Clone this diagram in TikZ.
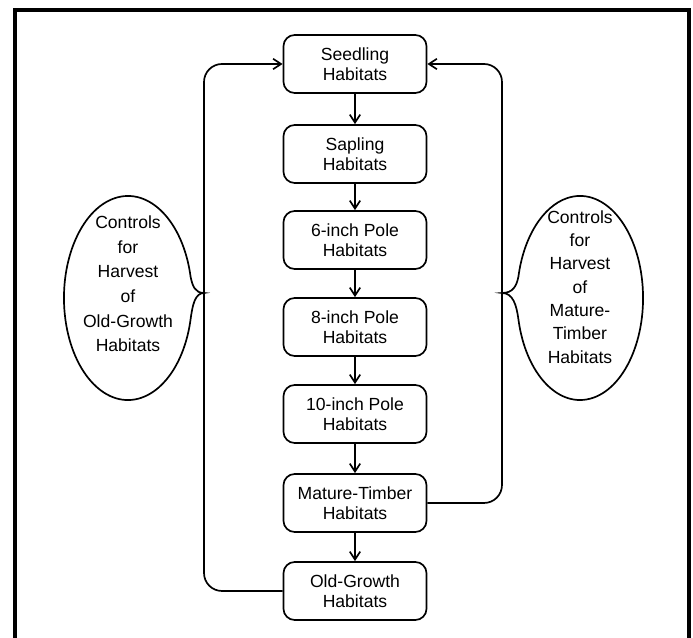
\documentclass[tikz,border=0pt]{standalone}
\usepackage{fontspec}
\setmainfont{Liberation Sans}
\usetikzlibrary{arrows.meta, positioning, calc}

\begin{document}
\begin{tikzpicture}[x=0.025cm, y=0.025cm, font=\fontsize{12.5}{14.2}\selectfont,
        habitat/.style={draw, line width=1.2pt, rounded corners=0.28cm, align=center,
            minimum width=3.575cm, minimum height=1.45cm, inner sep=0pt},
        flow/.style={line width=1.2pt, -{Straight Barb[length=2mm, width=2.6mm, line width=1.2pt]}},
        control/.style={line width=1.2pt},
        controltext/.style={align=center, inner sep=0pt}]
        \useasboundingbox (0,0) rectangle (693,638);

        % Frame
        \draw[line width=2.2pt] (15,0) -- (15,628) -- (689,628) -- (689,0);

        % Habitat stages
        \node[habitat] (seed) at (355,574) {Seedling\\Habitats};
        \node[habitat] (sap) at (355,484) {Sapling\\Habitats};
        \node[habitat] (p6) at (355,398) {6-inch Pole\\Habitats};
        \node[habitat] (p8) at (355,311) {8-inch Pole\\Habitats};
        \node[habitat] (p10) at (355,224) {10-inch Pole\\Habitats};
        \node[habitat] (mat) at (355,135) {Mature-Timber\\Habitats};
        \node[habitat] (old) at (355,47) {Old-Growth\\Habitats};

        % Growth chain
        \draw[flow] (seed) -- (sap);
        \draw[flow] (sap) -- (p6);
        \draw[flow] (p6) -- (p8);
        \draw[flow] (p8) -- (p10);
        \draw[flow] (p10) -- (mat);
        \draw[flow] (mat) -- (old);

        % Harvest loops
        \coordinate (lrail) at (204,345);
        \coordinate (rrail) at (502,345);
        \draw[flow, rounded corners=0.45cm] (old.west) -| (lrail) |- (seed.west);
        \draw[flow, rounded corners=0.45cm] (mat.east) -| (rrail) |- (seed.east);

        % Controls (left)
        \draw[control] (190.6,361.2) arc[start angle=12, end angle=348, x radius=1.6cm, y radius=2.55cm]
            .. controls (192.5,333) and (195,345) .. (lrail)
            .. controls (195,345) and (192.5,352) .. cycle;
        \node[controltext, font=\fontsize{12.5}{17.5}\selectfont] (oldctl) at (128,354)
            {Controls\\for\\Harvest\\of\\Old-Growth\\Habitats};

        % Controls (right)
        \draw[control] (518.4,318.8) arc[start angle=-168, end angle=168, x radius=1.575cm, y radius=2.55cm]
            .. controls (516.5,352) and (513,345) .. (rrail)
            .. controls (513,345) and (516.5,333) .. cycle;
        \node[controltext, font=\fontsize{12.5}{16.6}\selectfont] (matctl) at (580,351)
            {Controls\\for\\Harvest\\of\\Mature-\\Timber\\Habitats};
      \end{tikzpicture}
\end{document}
